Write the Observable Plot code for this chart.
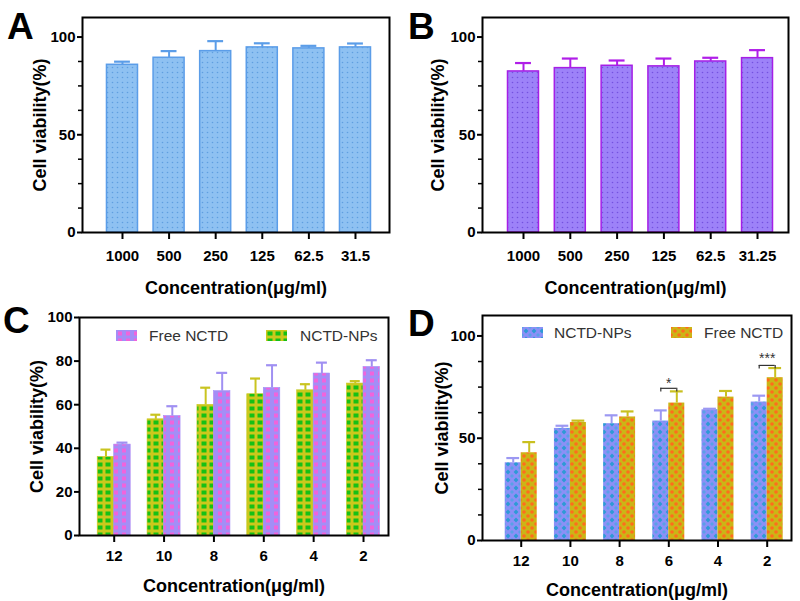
<!DOCTYPE html>
<html><head><meta charset="utf-8">
<script src="https://cdn.jsdelivr.net/npm/d3@7"></script>
<script src="https://cdn.jsdelivr.net/npm/@observablehq/plot@0.6"></script>
<style>
body{margin:0;background:#fff;}
#wrap{position:relative;width:800px;height:601px;overflow:hidden;font-family:"Liberation Sans",Arial,sans-serif;background:#fff;}
.panel{position:absolute;}
.letter{position:absolute;font-size:37px;font-weight:bold;line-height:37px;color:#000;}
.leg{position:absolute;font-size:15.5px;color:#333;line-height:16px;white-space:nowrap;}
.sw{position:absolute;display:block;}
</style></head><body>
<svg width="0" height="0" style="position:absolute;left:0;top:0"><defs>
  <pattern id="patA" width="5" height="5" patternUnits="userSpaceOnUse">
    <rect width="5" height="5" fill="#8ec1f2"/><circle cx="2.5" cy="2.5" r="0.8" fill="#5f9fe0"/>
  </pattern>
  <pattern id="patB" width="5" height="5" patternUnits="userSpaceOnUse">
    <rect width="5" height="5" fill="#9d82f8"/><circle cx="2.5" cy="2.5" r="0.8" fill="#7452e0"/>
  </pattern>
  <pattern id="patCnp" width="8" height="7" patternUnits="userSpaceOnUse">
    <rect width="8" height="7" fill="#cbc81c"/><rect x="1.5" y="1.5" width="5" height="4" fill="#16c016"/>
  </pattern>
  <pattern id="patCfree" width="8" height="7" patternUnits="userSpaceOnUse">
    <rect width="8" height="7" fill="#a38ef6"/><rect x="2" y="1.5" width="4" height="4" fill="#f064dc"/>
  </pattern>
  <pattern id="patDnp" width="8" height="8" patternUnits="userSpaceOnUse">
    <rect width="8" height="8" fill="#8b90f6"/>
    <polygon points="4,1.6 6.4,4 4,6.4 1.6,4" fill="#2d9ad6"/>
    <polygon points="0,-2 2,0 0,2 -2,0" fill="#5aa0e8"/>
    <polygon points="8,-2 10,0 8,2 6,0" fill="#5aa0e8"/>
    <polygon points="0,6 2,8 0,10 -2,8" fill="#5aa0e8"/>
    <polygon points="8,6 10,8 8,10 6,8" fill="#5aa0e8"/>
  </pattern>
  <pattern id="patDfree" width="8" height="8" patternUnits="userSpaceOnUse">
    <rect width="8" height="8" fill="#cbb516"/>
    <circle cx="4" cy="4" r="1.8" fill="#ff6c1c"/>
    <circle cx="0" cy="0" r="1.8" fill="#ff6c1c"/><circle cx="8" cy="0" r="1.8" fill="#ff6c1c"/>
    <circle cx="0" cy="8" r="1.8" fill="#ff6c1c"/><circle cx="8" cy="8" r="1.8" fill="#ff6c1c"/>
  </pattern>
</defs></svg>
<div id="wrap"></div>
<script>
// ---------- data ----------
const aLabels = ["1000", "500", "250", "125", "62.5", "31.5"];
const aMean = [85.8, 89.4, 92.8, 94.7, 94.2, 94.7];
const aSD = [1.6, 3.4, 5.1, 2.1, 1.3, 2.0];

const bLabels = ["1000", "500", "250", "125", "62.5", "31.25"];
const bMean = [82.4, 84.1, 85.3, 85.0, 87.5, 89.2];
const bSD = [4.3, 4.9, 2.7, 4.0, 1.9, 4.1];

const cLabels = ["12", "10", "8", "6", "4", "2"];
const cNP = [36.0, 53.3, 59.9, 64.8, 66.6, 69.7];
const cNPsd = [3.4, 2.1, 7.9, 7.2, 2.8, 1.1];
const cFree = [41.7, 54.8, 66.2, 67.7, 74.3, 77.3];
const cFreeSD = [0.9, 4.5, 8.4, 10.4, 5.0, 3.1];

const dLabels = ["12", "10", "8", "6", "4", "2"];
const dNP = [38.0, 54.8, 57.1, 58.4, 63.9, 67.7];
const dNPsd = [2.3, 1.3, 4.1, 5.2, 0.5, 3.1];
const dFree = [42.9, 57.7, 60.4, 67.2, 70.1, 79.6];
const dFreeSD = [5.2, 0.9, 2.7, 5.7, 3.0, 4.7];

const sigIndex = [3, 5];
const sigText = ["*", "***"];
const sigBracket = [74.4, 85.6];
const sigStar = [76.6, 88.8];

const yTitle = "Cell viability(%)";
const xTitle = "Concentration(μg/ml)";

// ---------- drawing ----------
const wrap = document.getElementById("wrap");
const FONT = "Liberation Sans, Arial, sans-serif";

function makePanel(cfg) {
  const marks = [];
  cfg.series.forEach(s => {
    const rows = s.mean.map((v, i) => ({i, x: i + s.off, v, e: v + s.sd[i]}));
    marks.push(Plot.rectY(rows, {
      x1: d => d.x - s.hw, x2: d => d.x + s.hw, y1: d => 0, y2: "v",
      fill: s.fill, stroke: s.stroke, strokeWidth: s.sw
    }));
    marks.push(Plot.ruleX(rows, {x: "x", y1: "v", y2: "e", stroke: s.err, strokeWidth: 2}));
    marks.push(Plot.ruleY(rows, {y: "e", x1: d => d.x - s.cap, x2: d => d.x + s.cap, stroke: s.err, strokeWidth: 2.2}));
  });
  if (cfg.extra) marks.push(...cfg.extra);
  marks.push(Plot.frame({stroke: "#000", strokeWidth: 2}));
  marks.push(Plot.axisY({ticks: cfg.yTicks, tickSize: 5, tickPadding: 2, strokeWidth: 2,
    fontSize: 15, fontWeight: "bold", label: null}));
  if (cfg.yMinor.length) marks.push(Plot.axisY({ticks: cfg.yMinor, tickSize: 4, strokeWidth: 1.5,
    tickFormat: () => "", label: null}));
  marks.push(Plot.axisX({ticks: d3.range(cfg.labels.length), tickFormat: i => cfg.labels[i],
    tickSize: 7, tickPadding: cfg.tickPadding, strokeWidth: 2, fontSize: 15, fontWeight: "bold", label: null}));
  marks.push(Plot.text([yTitle], {text: d => d, frameAnchor: "left", rotate: -90, dx: cfg.yTitleDx,
    textAnchor: "middle", lineAnchor: "middle", fontSize: 18, fontWeight: "bold", fill: "#000"}));
  marks.push(Plot.text([xTitle], {text: d => d, frameAnchor: "bottom", dy: cfg.xTitleDy,
    textAnchor: "middle", lineAnchor: "middle", fontSize: 18, fontWeight: "bold", fill: "#000"}));

  const svg = Plot.plot({
    width: cfg.width, height: cfg.height,
    marginTop: cfg.m[0], marginRight: cfg.m[1], marginBottom: cfg.m[2], marginLeft: cfg.m[3],
    x: {type: "linear", domain: cfg.xDomain},
    y: {domain: cfg.yDomain},
    style: {fontFamily: FONT, fontSize: "15px", fontWeight: "bold", color: "#000", background: "transparent", overflow: "visible"},
    marks
  });
  svg.classList.add("panel");
  svg.style.left = cfg.left + "px";
  svg.style.top = cfg.top + "px";
  svg.style.position = "absolute";
  wrap.appendChild(svg);
}

const minor110 = [12.5, 25, 37.5, 62.5, 75, 87.5];

makePanel({
  left: 0, top: 0, width: 400, height: 300, m: [17, 11, 68, 82],
  xDomain: [-0.858, 5.730], yDomain: [0, 110], yTicks: [0, 50, 100], yMinor: minor110,
  labels: aLabels, tickPadding: 11, yTitleDx: -42, xTitleDy: 55.5,
  series: [{mean: aMean, sd: aSD, off: 0, hw: 0.333, fill: "url(#patA)", stroke: "#5b9de8", sw: 1.5, err: "#5b9de8", cap: 0.17}]
});

makePanel({
  left: 400, top: 0, width: 400, height: 300, m: [17, 12, 68, 82],
  xDomain: [-0.876, 5.662], yDomain: [0, 110], yTicks: [0, 50, 100], yMinor: minor110,
  labels: bLabels, tickPadding: 11, yTitleDx: -44, xTitleDy: 55.5,
  series: [{mean: bMean, sd: bSD, off: 0, hw: 0.331, fill: "url(#patB)", stroke: "#a51fe6", sw: 1.5, err: "#b01ee8", cap: 0.17}]
});

makePanel({
  left: 0, top: 300, width: 400, height: 301, m: [17, 12, 66, 79],
  xDomain: [-0.696, 5.501], yDomain: [0, 100], yTicks: [0, 20, 40, 60, 80, 100], yMinor: [],
  labels: cLabels, tickPadding: 7.4, yTitleDx: -42, xTitleDy: 51,
  series: [
    {mean: cNP, sd: cNPsd, off: -0.1655, hw: 0.1655, fill: "url(#patCnp)", stroke: "#cbc81c", sw: 0.6, err: "#c9c420", cap: 0.1},
    {mean: cFree, sd: cFreeSD, off: 0.1655, hw: 0.1655, fill: "url(#patCfree)", stroke: "#a38ef6", sw: 0.6, err: "#a090f2", cap: 0.11}
  ]
});

const sig = sigIndex.map((i, k) => ({i, t: sigText[k], b: sigBracket[k], s: sigStar[k]}));
const bOff = 0.1625;
makePanel({
  left: 400, top: 300, width: 400, height: 301, m: [15, 9, 61, 82],
  xDomain: [-0.787, 5.494], yDomain: [0, 110], yTicks: [0, 50, 100], yMinor: minor110,
  labels: dLabels, tickPadding: 7.4, yTitleDx: -40, xTitleDy: 50,
  series: [
    {mean: dNP, sd: dNPsd, off: -bOff, hw: bOff, fill: "url(#patDnp)", stroke: "none", sw: 0, err: "#9c98f2", cap: 0.13},
    {mean: dFree, sd: dFreeSD, off: bOff, hw: bOff, fill: "url(#patDfree)", stroke: "none", sw: 0, err: "#c9c020", cap: 0.13}
  ],
  extra: [
    Plot.ruleY(sig, {y: "b", x1: d => d.i - bOff, x2: d => d.i + bOff, stroke: "#333", strokeWidth: 1.2}),
    Plot.ruleX(sig, {x: d => d.i - bOff, y1: "b", y2: d => d.b - 1.8, stroke: "#333", strokeWidth: 1.2}),
    Plot.ruleX(sig, {x: d => d.i + bOff, y1: "b", y2: d => d.b - 1.8, stroke: "#333", strokeWidth: 1.2}),
    Plot.text(sig, {x: "i", y: "s", text: "t", fontSize: 14, fontWeight: "normal", fill: "#333"})
  ]
});

// panel letters
[["A", 7, 8], ["B", 408, 8], ["C", 3, 302], ["D", 408, 305]].forEach(([t, l, tp]) => {
  const d = document.createElement("div");
  d.className = "letter"; d.textContent = t;
  d.style.left = l + "px"; d.style.top = tp + "px";
  wrap.appendChild(d);
});

// legends
function legend(x, y, pat, label, tx) {
  const s = document.createElementNS("http://www.w3.org/2000/svg", "svg");
  s.setAttribute("width", 21); s.setAttribute("height", 11);
  s.setAttribute("class", "sw");
  s.style.left = x + "px"; s.style.top = y + "px";
  const r = document.createElementNS("http://www.w3.org/2000/svg", "rect");
  r.setAttribute("width", 21); r.setAttribute("height", 11); r.setAttribute("fill", `url(#${pat})`);
  s.appendChild(r);
  wrap.appendChild(s);
  const d = document.createElement("div");
  d.className = "leg"; d.textContent = label;
  d.style.left = tx + "px"; d.style.top = (y - 2) + "px";
  wrap.appendChild(d);
}
legend(116, 330, "patCfree", "Free NCTD", 149);
legend(266, 330, "patCnp", "NCTD-NPs", 300);
legend(522, 327, "patDnp", "NCTD-NPs", 554);
legend(671, 327, "patDfree", "Free NCTD", 704);
</script>
</body></html>
